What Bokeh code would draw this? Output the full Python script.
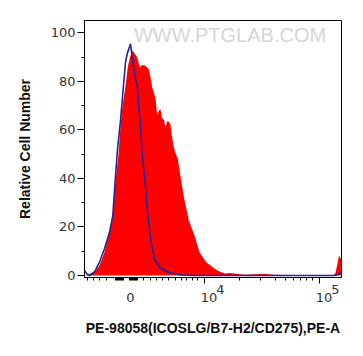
from bokeh.plotting import figure
from bokeh.models import FixedTicker, Label, Range1d, LinearAxis
from bokeh.embed import file_html
from bokeh.resources import INLINE

# Histogram data on a 257-channel biexponential display axis
red_x = [0, 1.7, 5, 8.3, 12, 15, 20, 25, 28.3, 31, 34, 36, 38, 41, 43.3, 45.5, 47.7, 49.3,
         52.7, 55.3, 57.7, 61, 64.3, 66, 67.7, 71, 72.7, 74.5, 76, 77.5, 79.5, 81, 82.5,
         84.3, 86, 87.5, 89.3, 91, 93.3, 97.7, 100, 103.3, 104.3, 110, 115, 121.7, 128.3,
         133.3, 140, 145, 150, 160, 170, 180, 190, 200, 210, 220, 240, 249, 251, 253,
         254.5, 256, 257]
red_y = [0.4, 0.1, 0.6, 1.4, 2.5, 4.1, 9.6, 17.8, 24.7, 39, 50, 61.8, 70, 78, 86, 90, 92.7,
         92, 90, 85.8, 86.8, 86.5, 85, 81.7, 77.6, 73, 66, 68, 68.5, 65, 64, 61, 63.5,
         63.5, 62, 57, 52.9, 50.5, 48, 36.4, 31, 24.7, 22.7, 16.5, 9.6, 5.5, 3.4,
         2, 0.8, 1, 0.8, 0.3, 0.5, 0.6, 0.3, 0.2, 0.2, 0.2, 0.1, 0.2, 1, 5,
         8.2, 7, 7]

blue_x = [0, 2.5, 5, 10, 15, 20, 25, 28.3, 31, 33, 36, 38.5, 41, 42.7, 46, 48.3, 49.5, 51,
          52.7, 54.3, 56, 57.7, 61, 63.3, 66.7, 70, 75, 83.3, 96.7, 110, 250, 253, 257]
blue_y = [2, 0.6, 0, 1.4, 5.5, 11, 17.8, 24.7, 41, 52, 63.9, 76, 87.9, 91.3, 95.5, 87.9, 85,
          81, 79, 68.7, 62, 50.1, 36.4, 24.7, 13.7, 6.9, 3.4, 1.4, 0.2, 0, 0, 0.3, 1.5]

y_ticks = [0, 20, 40, 60, 80, 100]
y_minor = [10, 30, 50, 70, 90]

x_major = [120, 235]
x_minor = [3, 9, 15, 22, 31, 32, 33, 34, 35, 36, 37, 38, 39, 45, 46, 47, 48, 49, 50, 51, 52, 53,
           59, 66, 72, 78, 84, 91, 97, 102, 108, 113, 155, 176, 191, 201, 209, 216, 222, 228]
# tick label texts: "0", "10^4", "10^5"; bases centred just right of the ticks
base_pos = [46, 124.5, 239.5]
base_text = ["0", "10", "10"]
exp_pos = [136, 251]
exp_text = ["4", "5"]

x_title = "PE-98058(ICOSLG/B7-H2/CD275),PE-A"
y_title = "Relative Cell Number"
watermark = "WWW.PTGLAB.COM"

TICK_FONT = "DejaVu Sans"
TICK_COLOR = "#333333"

p = figure(width=363, height=356, output_backend="svg", toolbar_location=None,
           x_range=Range1d(0, 257), y_range=Range1d(-0.82, 105.1),
           min_border_left=84, min_border_right=22, min_border_top=20, min_border_bottom=79)
p.background_fill_color = "white"
p.border_fill_color = "white"
p.outline_line_color = "black"
p.outline_line_width = 1
p.xgrid.visible = False
p.ygrid.visible = False

p.varea(x=red_x, y1=0, y2=red_y, fill_color="#ff0000")
p.line(x=blue_x, y=blue_y, line_color="#25259a", line_width=1.6)

# x axis: ticks only
xa = p.xaxis[0]
xa.ticker = FixedTicker(ticks=x_major, minor_ticks=x_minor)
xa.major_label_overrides = {t: " " for t in x_major}
xa.major_label_text_font_size = "1px"
xa.major_label_standoff = 0
xa.major_tick_out = 6
xa.major_tick_in = 0
xa.minor_tick_out = 3
xa.minor_tick_in = 0
xa.axis_line_color = "black"
xa.major_tick_line_color = "black"
xa.minor_tick_line_color = "black"


def label_axis(positions, texts, standoff):
    ax = LinearAxis(ticker=FixedTicker(ticks=positions, minor_ticks=[]),
                    major_label_overrides=dict(zip(positions, texts)))
    ax.axis_line_color = None
    ax.major_tick_line_color = None
    ax.minor_tick_line_color = None
    ax.major_tick_out = 0
    ax.major_tick_in = 0
    ax.minor_tick_out = 0
    ax.minor_tick_in = 0
    ax.major_label_standoff = standoff
    ax.major_label_text_font = TICK_FONT
    ax.major_label_text_font_size = "13px"
    ax.major_label_text_color = TICK_COLOR
    p.add_layout(ax, "below")
    return ax


exp_axis = label_axis(exp_pos, exp_text, -3)
base_axis = label_axis(base_pos, base_text, -4)
base_axis.axis_label = x_title
base_axis.axis_label_text_font = "Liberation Sans"
base_axis.axis_label_text_font_style = "bold"
base_axis.axis_label_text_font_size = "14px"
base_axis.axis_label_text_color = "#111111"
base_axis.axis_label_standoff = 15

ya = p.yaxis[0]
ya.ticker = FixedTicker(ticks=y_ticks, minor_ticks=y_minor)
ya.major_label_text_font = TICK_FONT
ya.major_label_text_font_size = "13px"
ya.major_label_text_color = TICK_COLOR
ya.major_label_standoff = 2
ya.major_tick_out = 7
ya.major_tick_in = 0
ya.minor_tick_out = 3
ya.minor_tick_in = 0
ya.axis_line_color = "black"
ya.axis_label = y_title
ya.axis_label_text_font = "Liberation Sans"
ya.axis_label_text_font_style = "bold"
ya.axis_label_text_font_size = "14px"
ya.axis_label_text_color = "#111111"
ya.axis_label_standoff = 15

p.add_layout(Label(x=145.5, y=99.3, text=watermark, text_align="center",
                   text_baseline="middle", text_font="Liberation Sans",
                   text_font_size="20px", text_color="#d6d6d6"))

open("out.html", "w").write(file_html(p, INLINE))
